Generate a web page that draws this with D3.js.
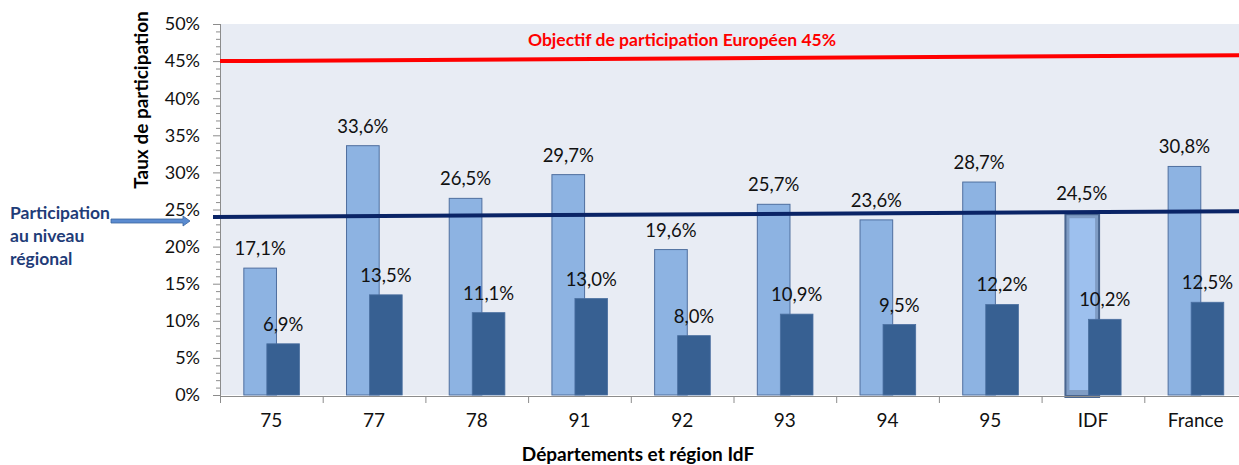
<!DOCTYPE html>
<html>
<head>
<meta charset="utf-8">
<script src="https://cdn.jsdelivr.net/npm/d3@7"></script>
<style>
  body { margin: 0; background: #ffffff; }
  svg text { font-family: "Lato", "Liberation Sans", sans-serif; }
</style>
</head>
<body>
<div id="chart"></div>
<script>
// Data
const categories = ["75", "77", "78", "91", "92", "93", "94", "95", "IDF", "France"];
const taux2008 = [17.1, 33.6, 26.5, 29.7, 19.6, 25.7, 23.6, 28.7, 24.5, 30.8];
const taux2012 = [6.9, 13.5, 11.1, 13.0, 8.0, 10.9, 9.5, 12.2, 10.2, 12.5];
const yTicks = [0, 5, 10, 15, 20, 25, 30, 35, 40, 45, 50];
const objectifLine = [45, 45.8];   // drawn line, slightly slanted in source
const regionalLine = [24.0, 24.75];

const fmt = (v) => d3.format(".1f")(v).replace(".", ",") + "%";

const width = 1239,
  height = 465;
const plot = { left: 220, right: 1247, top: 24, bottom: 395 };

const svg = d3
  .select("#chart")
  .append("svg")
  .attr("width", width)
  .attr("height", height);

const x = d3
  .scaleBand()
  .domain(categories)
  .range([plot.left, plot.right])
  .padding(0);
const y = d3.scaleLinear().domain([0, 50]).range([plot.bottom, plot.top]);

const bw = x.bandwidth();
const barW = bw * 0.318;
const cx = (c) => x(c) + bw / 2;
const lightX = (c) => cx(c) - bw * 0.268;
const darkX = (c) => cx(c) - bw * 0.044;

//Background
svg
  .append("rect")
  .attr("x", plot.left)
  .attr("y", y(50))
  .attr("width", width - plot.left)
  .attr("height", y(0) - y(50))
  .attr("fill", "#e8ecf4");

// Bars
const layerBars = svg.append("g");
categories.forEach((c, i) => {
  if (c === "IDF") {
    // bevelled bar
    const g = layerBars.append("g");
    g.append("rect")
      .attr("x", lightX(c) - 1)
      .attr("y", y(taux2008[i]))
      .attr("width", barW + 3)
      .attr("height", y(0) - y(taux2008[i]) + 3)
      .attr("fill", "#4a6690");
    g.append("rect")
      .attr("x", lightX(c) + 1)
      .attr("y", y(taux2008[i]) + 2)
      .attr("width", barW - 1)
      .attr("height", y(0) - y(taux2008[i]) - 2)
      .attr("fill", "#7f9cc4");
    g.append("rect")
      .attr("x", lightX(c) + 4)
      .attr("y", y(taux2008[i]) + 5)
      .attr("width", barW - 7)
      .attr("height", y(0) - y(taux2008[i]) - 10)
      .attr("fill", "#9dc0ee");
  } else {
    layerBars
      .append("rect")
      .attr("x", lightX(c))
      .attr("y", y(taux2008[i]))
      .attr("width", barW)
      .attr("height", y(0) - y(taux2008[i]))
      .attr("fill", "#8db3e2")
      .attr("stroke", "#4f6f9f")
      .attr("stroke-width", 1);
  }
  layerBars
    .append("rect")
    .attr("x", darkX(c))
    .attr("y", y(taux2012[i]))
    .attr("width", barW)
    .attr("height", y(0) - y(taux2012[i]))
    .attr("fill", "#376092")
    .attr("stroke", "#4a6fa0")
    .attr("stroke-width", 0.8);
});

// Value labels
const layerLabels = svg.append("g").attr("font-size", 18.5).attr("fill", "#111");
layerLabels
  .selectAll("text.l1")
  .data(categories)
  .join("text")
  .attr("class", "l1")
  .attr("x", (c) => lightX(c) + barW / 2)
  .attr("y", (c, i) => y(taux2008[i]) - 13)
  .attr("text-anchor", "middle")
  .text((c, i) => fmt(taux2008[i]));
layerLabels
  .selectAll("text.l2")
  .data(categories)
  .join("text")
  .attr("class", "l2")
  .attr("x", (c) => darkX(c) + barW / 2)
  .attr("y", (c, i) => y(taux2012[i]) - 13)
  .attr("text-anchor", "middle")
  .text((c, i) => fmt(taux2012[i]));

// Axes
const yAxis = svg
  .append("g")
  .attr("transform", `translate(${plot.left},0)`);
yAxis
  .selectAll("line.minor")
  .data(d3.range(0, 51))
  .join("line")
  .attr("x1", (d) => (d % 5 === 0 ? -7 : -4))
  .attr("x2", 0)
  .attr("y1", (d) => y(d) + 0.5)
  .attr("y2", (d) => y(d) + 0.5)
  .attr("stroke", "#8c8c8c");
yAxis
  .append("line")
  .attr("x1", 0.5)
  .attr("x2", 0.5)
  .attr("y1", y(50))
  .attr("y2", y(0) + 1)
  .attr("stroke", "#8c8c8c");
yAxis
  .selectAll("text")
  .data(yTicks)
  .join("text")
  .attr("x", -20)
  .attr("y", (d) => y(d))
  .attr("dy", "0.35em")
  .attr("text-anchor", "end")
  .attr("font-size", 18)
  .attr("fill", "#111")
  .text((d) => d + "%");

const xAxis = svg
  .append("g")
  .attr("transform", `translate(0,${y(0) + 1})`)
  .call(d3.axisBottom(x).tickSize(0).tickPadding(18));
xAxis.select(".domain").attr("stroke", "#8c8c8c").attr("d", `M${plot.left},0.5H${width}`);
xAxis.selectAll("text").attr("font-size", 19).attr("fill", "#111").attr("font-family", null);
xAxis
  .selectAll("line.sep")
  .data(categories)
  .join("line")
  .attr("class", "sep")
  .attr("x1", (c) => x(c) + 0.5)
  .attr("x2", (c) => x(c) + 0.5)
  .attr("y1", 0)
  .attr("y2", 7)
  .attr("stroke", "#8c8c8c");

// Axis titles
svg
  .append("text")
  .attr("transform", `translate(148,${100}) rotate(-90)`)
  .attr("text-anchor", "middle")
  .attr("font-weight", "bold")
  .attr("font-size", 19)
  .attr("fill", "#000")
  .text("Taux de participation");
svg
  .append("text")
  .attr("x", 638)
  .attr("y", 461)
  .attr("text-anchor", "middle")
  .attr("font-weight", "bold")
  .attr("font-size", 19)
  .attr("fill", "#000")
  .text("Départements et région IdF");

// Reference lines
svg
  .append("line")
  .attr("x1", plot.left)
  .attr("x2", width)
  .attr("y1", y(objectifLine[0]))
  .attr("y2", y(objectifLine[1]))
  .attr("stroke", "#ff0000")
  .attr("stroke-width", 4);
svg
  .append("text")
  .attr("x", 682)
  .attr("y", 46)
  .attr("text-anchor", "middle")
  .attr("font-weight", "bold")
  .attr("font-size", 17.5)
  .attr("fill", "#ff0000")
  .text("Objectif de participation Européen 45%");

svg
  .append("line")
  .attr("x1", 213)
  .attr("x2", width)
  .attr("y1", y(regionalLine[0]))
  .attr("y2", y(regionalLine[1]))
  .attr("stroke", "#0a2466")
  .attr("stroke-width", 4);

// Regional annotation
const note = svg
  .append("text")
  .attr("font-weight", "bold")
  .attr("font-size", 17.5)
  .attr("fill", "#1f3c78");
["Participation", "au niveau", "régional"].forEach((t, i) => {
  note.append("tspan").attr("x", 10).attr("y", 219 + i * 23).text(t);
});
const ay = 221;
svg
  .append("path")
  .attr(
    "d",
    `M111,${ay - 2}H183V${ay - 5}L190,${ay}L183,${ay + 5}V${ay + 2}H111Z`
  )
  .attr("fill", "#5b8bd0")
  .attr("stroke", "#3a64a0")
  .attr("stroke-width", 0.8);
</script>
</body>
</html>
